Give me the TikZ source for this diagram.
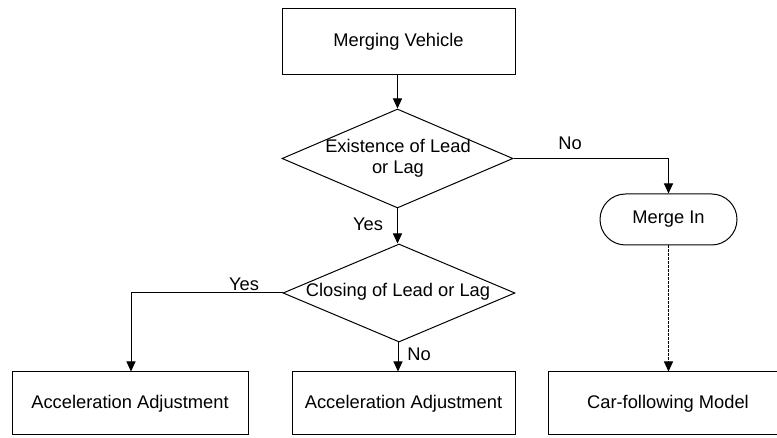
\documentclass[tikz,border=0pt]{standalone}
\usepackage{fontspec}
\setmainfont{Liberation Sans}
\usetikzlibrary{shapes.geometric,shapes.misc,arrows.meta}
\begin{document}
\begin{tikzpicture}[x=1pt,y=-1pt,
  every node/.style={font=\fontsize{18.3}{21}\selectfont},
  line/.style={line width=1pt},
  flow/.style={line, -{Triangle[length=10pt,width=9pt]}},
  box/.style={line, draw, rectangle, inner sep=0pt},
  dec/.style={line, draw, diamond, inner sep=0pt},
  term/.style={line, draw, rounded rectangle, inner sep=0pt},
  txt/.style={inner sep=0pt, align=center},
  lbl/.style={inner sep=0pt}]
\useasboundingbox (0,0) rectangle (777,438);
\clip (0,0) rectangle (777,438);
\fill[white] (0,0) rectangle (777,438);

% process boxes
\node[box, minimum width=233pt, minimum height=66pt] (mv) at (398.5,42) {Merging Vehicle};
\node[box, minimum width=236pt, minimum height=63pt] (acc1) at (130,403.5) {Acceleration Adjustment};
\node[box, minimum width=223pt, minimum height=63pt] (acc2) at (403.5,403.5) {Acceleration Adjustment};
\node[box, minimum width=242pt, minimum height=63pt] (cf) at (669,403.5) {};
\node[txt] (cft) at (668,404) {Car-following Model};

% decisions
\node[dec, minimum width=231pt, minimum height=99pt] (d1) at (397.5,158.5) {};
\node[txt] (d1t) at (398,158.5) {Existence of Lead\\or Lag};
\node[dec, minimum width=232pt, minimum height=98pt] (d2) at (399,293) {};
\node[txt] (d2t) at (398,292) {Closing of Lead or Lag};

% terminal
\node[term, minimum width=137pt, minimum height=51pt] (mi) at (668.5,219.5) {Merge In};

% connectors
\draw[flow] (mv.south -| d1.north) -- (d1.north);
\draw[flow] (d1.south) -- (d2.north -| d1.south);
\node[lbl] (yes1) at (368,224) {Yes};
\draw[flow] (d1.east) -| (mi.north);
\node[lbl] (no1) at (570,143) {No};
\draw[flow, dash pattern=on 2.5pt off 1.5pt] (mi.south) -- (mi.south |- cf.north);
\draw[flow] (d2.west) -| (acc1.north -| 131,0);
\node[lbl] (yes2) at (244,284) {Yes};
\draw[flow] (d2.south -| 398,0) -- (acc2.north -| 398,0);
\node[lbl] (no2) at (419,354) {No};
\end{tikzpicture}
\end{document}
